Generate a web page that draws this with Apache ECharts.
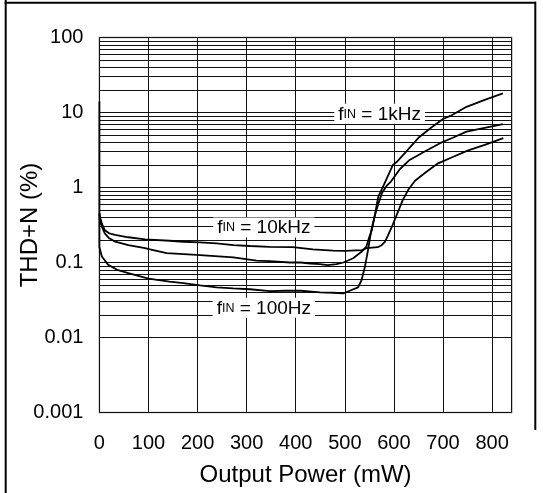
<!DOCTYPE html>
<html><head><meta charset="utf-8">
<script src="https://cdn.jsdelivr.net/npm/echarts@6/dist/echarts.min.js"></script>
<style>html,body{margin:0;padding:0;background:#fff;}#c{width:543px;height:493px;}</style>
</head><body><div id="c"></div>
<script>
// ---- data ----
const xTickLabels = ['0','100','200','300','400','500','600','700','800'];
const yTickLabels = ['0.001','0.01','0.1','1','10','100'];
const seriesNames = ['fIN = 1kHz','fIN = 100Hz','fIN = 10kHz'];
const freqLabels = ['1kHz','10kHz','100Hz'];

const thd1kHz = [[0,0.45],[1,0.37],[5,0.3],[11,0.245],[20,0.21],[32,0.19],[59,0.171],[93,0.155],[103,0.15],[137,0.133],[198,0.126],[273,0.117],[320,0.106],[347,0.104],[388,0.1],[410,0.1],[430,0.097],[449,0.095],[465,0.092],[483,0.095],[497,0.1],[517,0.114],[534,0.139],[544,0.163],[550,0.22],[555,0.27],[561,0.42],[568,0.75],[580,1.1],[598,2.0],[606,2.2],[625,3.0],[650,4.6],[675,6.2],[700,8.2],[715,9.0],[748,11.9],[785,14.7],[822,18]];
const thd100Hz = [[0,14],[0,0.16],[5,0.12],[18,0.093],[38,0.079],[59,0.072],[100,0.061],[143,0.0555],[171,0.053],[205,0.0497],[239,0.0467],[273,0.0453],[307,0.044],[347,0.0415],[380,0.042],[410,0.042],[450,0.04],[476,0.0395],[497,0.0388],[510,0.042],[527,0.0467],[534,0.058],[541,0.088],[548,0.155],[554,0.27],[561,0.42],[568,0.6],[576,0.85],[585,1.05],[594,1.2],[612,1.75],[632,2.33],[660,2.95],[694,3.9],[720,4.6],[748,5.55],[785,6.25],[822,7.0]];
const thd10kHz = [[0,0.45],[1.2,0.41],[5,0.33],[11,0.27],[20,0.245],[32,0.233],[59,0.217],[93,0.204],[143,0.195],[171,0.189],[205,0.186],[239,0.18],[273,0.171],[307,0.166],[347,0.162],[394,0.16],[435,0.15],[476,0.144],[500,0.143],[535,0.146],[544,0.155],[567,0.16],[575,0.17],[582,0.19],[588,0.23],[596,0.3],[605,0.42],[618,0.68],[630,0.95],[643,1.23],[665,1.6],[690,2.1],[720,2.55],[750,3.1],[785,3.7],[823,4.55]];

// minor log grid values (2..9 within each decade)
const decades = [0.001,0.01,0.1,1,10];
const minorMults = [2,3,4,5,6,7,8,9];

const FONT = '"Liberation Sans", Arial, Helvetica, sans-serif';
const minorLines = [];
decades.forEach(d => minorMults.forEach(m => minorLines.push({yAxis: +(d*m).toPrecision(3)})));

function fmtY(v){
  const s = String(+Number(v).toPrecision(3));
  return yTickLabels.indexOf(s) >= 0 ? s : '';
}
function richLabel(f){ return '{a|f}{b|IN}{a| = ' + f + '}'; }

const chart = echarts.init(document.getElementById('c'), null, {renderer:'canvas'});
const lineStyle = {color:'#000', width:1.8};
chart.setOption({
  animation:false,
  backgroundColor:'#fff',
  grid:{left:99.4, top:37.5, right:31.3, bottom:80.5, show:true, borderColor:'#8a8a8a', borderWidth:1.5,
    backgroundColor:'transparent', containLabel:false, outerBoundsMode:'none'},
  xAxis:{type:'value', min:0, max:840, interval:100,
    axisLine:{show:false}, axisTick:{show:false},
    splitLine:{show:true, lineStyle:{color:'#111', width:1}},
    axisLabel:{margin:21, fontSize:20, color:'#000', fontFamily:FONT, showMaxLabel:false,
      formatter:v => xTickLabels[Math.round(v/100)] || ''},
    name:'Output Power (mW)', nameLocation:'middle', nameGap:51, nameMoveOverlap:false,
    nameTextStyle:{fontSize:24, color:'#000', fontFamily:FONT}},
  yAxis:{type:'log', logBase:10, min:0.001, max:100,
    axisLine:{show:false}, axisTick:{show:false},
    splitLine:{show:true, lineStyle:{color:'#111', width:1}},
    axisLabel:{margin:16, fontSize:20, color:'#000', fontFamily:FONT, formatter:fmtY},
    name:'THD+N (%)', nameLocation:'middle', nameGap:57, nameMoveOverlap:false,
    nameTextStyle:{fontSize:24, color:'#000', fontFamily:FONT}},
  graphic:[
    {type:'line', shape:{x1:5.7,y1:0,x2:5.7,y2:493}, style:{stroke:'#000', lineWidth:2}},
    {type:'line', shape:{x1:4.7,y1:2.7,x2:536,y2:2.7}, style:{stroke:'#000', lineWidth:2}},
    {type:'line', shape:{x1:535.3,y1:1.7,x2:535.3,y2:430}, style:{stroke:'#000', lineWidth:2}}
  ],
  series:[
    {name:seriesNames[0], type:'line', data:thd1kHz, showSymbol:false, symbol:'none', lineStyle:lineStyle, z:3,
      markLine:{silent:true, symbol:['none','none'], animation:false, z:1,
        label:{show:false}, lineStyle:{color:'#111', width:1, type:'solid'}, emphasis:{disabled:true},
        data:minorLines},
      markPoint:{z:8, symbol:'rect', symbolSize:1, itemStyle:{color:'rgba(0,0,0,0)'}, animation:false, silent:true,
        label:{show:true, position:'inside', backgroundColor:'#fff', padding:[1,4,0,4], color:'#000',
          formatter:p => richLabel(p.name),
          rich:{a:{fontSize:19, fontFamily:FONT, color:'#000'}, b:{fontSize:12.5, fontFamily:FONT, color:'#000'}}},
        data:[
          {name:freqLabels[0], coord:[571, 9.6]},
          {name:freqLabels[1], coord:[335, 0.293]},
          {name:freqLabels[2], coord:[335, 0.0249]}
        ]}
    },
    {name:seriesNames[1], type:'line', data:thd100Hz, showSymbol:false, symbol:'none', lineStyle:lineStyle, z:3},
    {name:seriesNames[2], type:'line', data:thd10kHz, showSymbol:false, symbol:'none', lineStyle:lineStyle, z:3}
  ]
});
</script></body></html>
